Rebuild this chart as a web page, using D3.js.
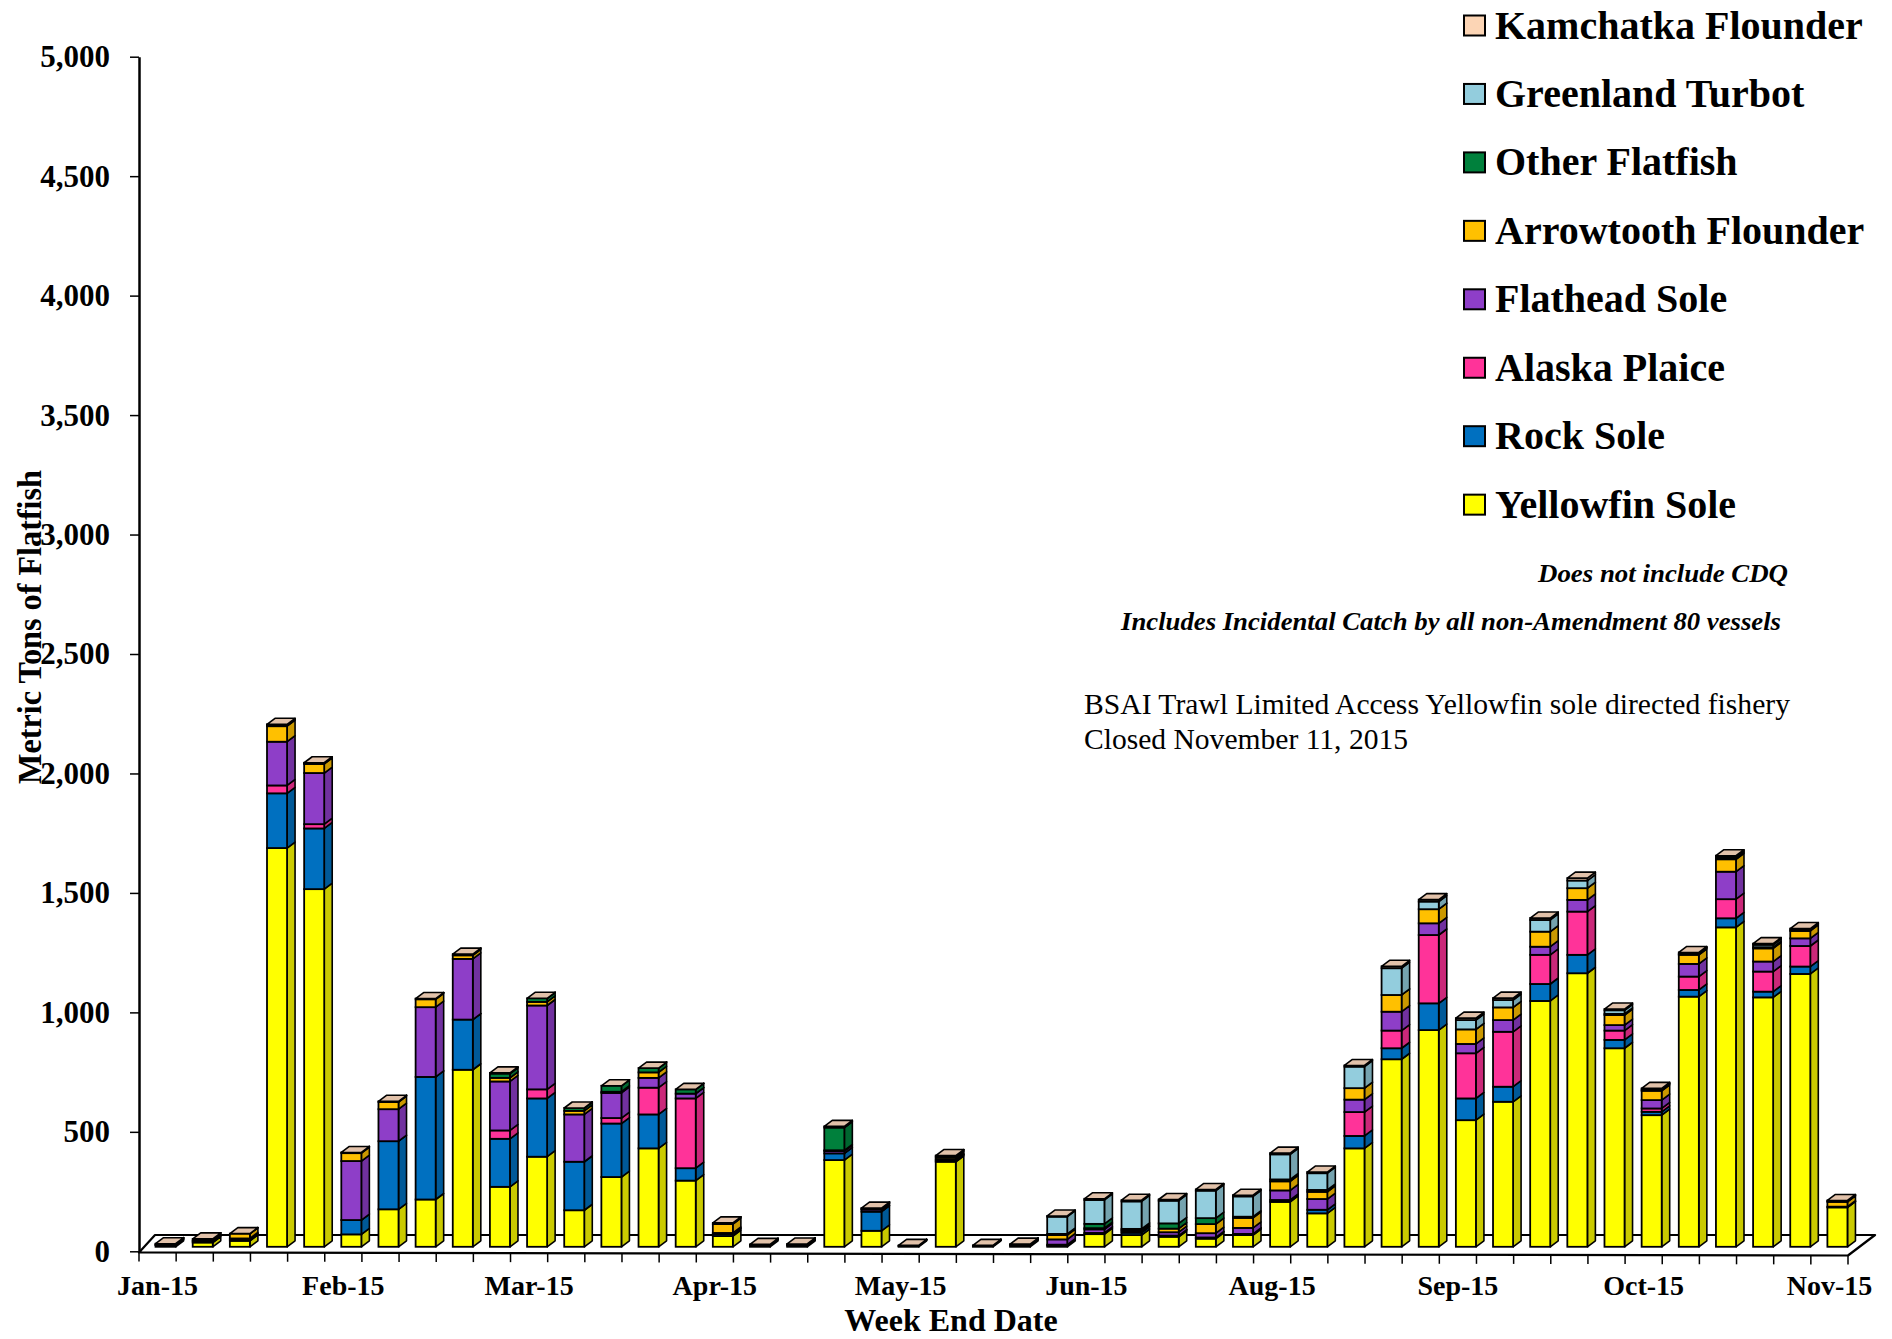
<!DOCTYPE html>
<html><head><meta charset="utf-8">
<script src="https://cdn.jsdelivr.net/npm/d3@7"></script>
<style>
html,body{margin:0;padding:0;background:#fff;}
svg{display:block;font-family:"Liberation Serif","Times New Roman",serif;}
</style></head><body>
<svg id="chart" width="1892" height="1339"></svg>
<script>
// ---- DATA ----
const weeks = ["2015-01-03","2015-01-10","2015-01-17","2015-01-24","2015-01-31","2015-02-07","2015-02-14","2015-02-21","2015-02-28","2015-03-07","2015-03-14","2015-03-21","2015-03-28","2015-04-04","2015-04-11","2015-04-18","2015-04-25","2015-05-02","2015-05-09","2015-05-16","2015-05-23","2015-05-30","2015-06-06","2015-06-13","2015-06-20","2015-06-27","2015-07-04","2015-07-11","2015-07-18","2015-07-25","2015-08-01","2015-08-08","2015-08-15","2015-08-22","2015-08-29","2015-09-05","2015-09-12","2015-09-19","2015-09-26","2015-10-03","2015-10-10","2015-10-17","2015-10-24","2015-10-31","2015-11-07","2015-11-14"];
const tickWeeks = ["2015-01-03","2015-02-07","2015-03-14","2015-04-18","2015-05-23","2015-06-27","2015-08-01","2015-09-05","2015-10-10","2015-11-14"];
const tickLabels = ["Jan-15","Feb-15","Mar-15","Apr-15","May-15","Jun-15","Aug-15","Sep-15","Oct-15","Nov-15"];
const yTicks = [0,500,1000,1500,2000,2500,3000,3500,4000,4500,5000];

const seriesNames = ["Yellowfin Sole","Rock Sole","Alaska Plaice","Flathead Sole","Arrowtooth Flounder","Other Flatfish","Greenland Turbot","Kamchatka Flounder"];
const seriesColors = ["#FFFF00","#0070C0","#FF3399","#8E3EC8","#FFC000","#00803C","#93CDDD","#FCD5B5"];

const yellowfinSole = [6,18,25,1669,1497,52,157,198,741,251,377,153,292,412,277,45,5,5,363,67,3,356,3,5,5,53,49,42,34,49,188,140,412,785,907,530,607,1029,1145,831,551,1047,1337,1044,1142,165];
const rockSole = [2,5,5,229,254,60,285,513,210,201,244,203,224,142,52,8,2,3,28,80,1,5,1,3,4,5,10,5,5,5,8,15,52,46,112,91,63,71,77,35,14,28,38,24,31,0];
const alaskaPlaice = [0,0,0,33,18,0,0,0,0,35,38,0,23,112,292,0,0,0,0,0,0,0,0,0,0,0,0,0,0,0,0,0,100,74,286,189,230,122,181,39,14,56,80,84,86,0];
const flatheadSole = [2,4,5,183,214,247,134,292,254,205,351,198,105,41,20,5,0,0,10,9,0,5,0,0,22,15,6,14,18,25,40,45,52,79,49,39,49,34,49,23,35,53,115,42,32,3];
const arrowtoothFlounder = [3,6,20,65,38,33,30,33,15,15,15,15,5,23,0,37,3,4,3,3,2,8,2,3,18,5,5,15,38,42,38,30,48,70,59,61,53,63,49,42,39,38,52,55,31,20];
const otherFlatfish = [0,0,0,5,3,3,3,3,5,18,15,12,25,18,18,5,0,0,95,3,0,5,0,0,5,18,5,22,25,5,8,8,0,0,0,0,0,0,0,5,5,5,5,5,5,3];
const greenlandTurbot = [0,0,0,0,0,0,0,0,0,0,0,0,0,0,0,0,0,0,0,0,0,3,0,0,72,100,115,95,115,85,105,70,90,112,32,39,31,49,32,15,0,0,5,10,0,0];
const kamchatkaFlounder = [0,0,0,3,2,0,0,0,0,3,0,0,0,0,0,0,0,0,5,0,0,0,0,0,3,5,5,5,5,5,5,5,5,8,8,8,8,8,10,5,5,5,5,5,5,3];

const seriesValues = [yellowfinSole,rockSole,alaskaPlaice,flatheadSole,arrowtoothFlounder,otherFlatfish,greenlandTurbot,kamchatkaFlounder];

// ---- CHART ----
const svg = d3.select("#chart");
const FONT = '"Liberation Serif","Times New Roman",serif';

const y = d3.scaleLinear().domain([0,5000]).range([1251.3,56.7]);
const x = d3.scaleBand().domain(weeks).range([139,1848]).paddingInner(0.46).paddingOuter(0.23);
const xCat = d3.scaleBand().domain(weeks).range([139,1848]).padding(0);

const rows = weeks.map((w,i)=>{const r={week:w}; seriesNames.forEach((s,j)=>r[s]=seriesValues[j][i]); return r;});
const stacked = d3.stack().keys(seriesNames)(rows);

// floor
const floorFront = 1252.5, floorBack = 1235;
svg.append("polygon")
  .attr("points",[[139,floorFront],[1848,floorFront+3],[1875,floorBack],[155,floorBack]].map(p=>p.join(",")).join(" "))
  .attr("fill","#fff").attr("stroke","#000").attr("stroke-width",2.2).attr("stroke-linejoin","round");

// x tick marks at category boundaries
svg.append("g").selectAll("line").data(d3.range(weeks.length+1)).join("line")
  .attr("x1",k=>139+k*xCat.step()).attr("x2",k=>139+k*xCat.step())
  .attr("y1",k=>floorFront+3*k/weeks.length).attr("y2",k=>floorFront+3*k/weeks.length+9)
  .attr("stroke","#000").attr("stroke-width",1.5);

// x axis labels
const labelMap = new Map(tickWeeks.map((w,i)=>[w,tickLabels[i]]));
const xAxis = svg.append("g").attr("transform","translate(0,1266)")
  .call(d3.axisBottom(xCat).tickValues(tickWeeks).tickFormat(w=>labelMap.get(w)).tickSize(0).tickPadding(0));
xAxis.select(".domain").remove();
xAxis.selectAll("text").attr("font-family",FONT).attr("font-weight","bold").attr("font-size",28)
  .attr("fill","#000").attr("dy","1.05em");

// bars
const barDX = 8, barDY = -4.5, depX = 8, depY = -6;
const bw = x.bandwidth();
const nS = seriesNames.length;
const barData = weeks.map((w,i)=>({week:w, segs:stacked.map((s,j)=>({j, y0:s[i][0], y1:s[i][1]}))}));

const bars = svg.append("g").selectAll("g").data(barData).join("g");
bars.each(function(b){
  const g = d3.select(this);
  const x0 = x(b.week)+barDX;
  b.segs.forEach(sg=>{
    const yb = y(sg.y0)+barDY, yt = y(sg.y1)+barDY;
    const c = seriesColors[sg.j];
    g.append("polygon")
      .attr("points",[[x0+bw,yb],[x0+bw+depX,yb+depY],[x0+bw+depX,yt+depY],[x0+bw,yt]].map(p=>p.join(",")).join(" "))
      .attr("fill",d3.color(c).darker(0.65)).attr("stroke","#000").attr("stroke-width",1.6).attr("stroke-linejoin","round");
    g.append("rect").attr("x",x0).attr("y",yt).attr("width",bw).attr("height",Math.max(0,yb-yt))
      .attr("fill",c).attr("stroke","#000").attr("stroke-width",1.8);
  });
  const top = b.segs[nS-1];
  const yt = y(top.y1)+barDY;
  g.append("polygon")
    .attr("points",[[x0,yt],[x0+depX,yt+depY],[x0+bw+depX,yt+depY],[x0+bw,yt]].map(p=>p.join(",")).join(" "))
    .attr("fill","#E2C2AA").attr("stroke","#000").attr("stroke-width",1.6).attr("stroke-linejoin","round");
});

// y axis
const yAxis = svg.append("g").attr("transform","translate(139,0)")
  .call(d3.axisLeft(y).tickValues(yTicks).tickFormat(d3.format(",")).tickSize(9).tickSizeOuter(0).tickPadding(20));
yAxis.select(".domain").attr("stroke","#000").attr("stroke-width",2.5);
yAxis.selectAll(".tick line").attr("stroke","#000").attr("stroke-width",1.5);
yAxis.selectAll("text").attr("font-family",FONT).attr("font-weight","bold").attr("font-size",31).attr("fill","#000");

// axis titles
svg.append("text").attr("transform","translate(41,627) rotate(-90)")
  .attr("text-anchor","middle").attr("font-family",FONT).attr("font-weight","bold").attr("font-size",33)
  .attr("textLength",314).attr("lengthAdjust","spacingAndGlyphs").text("Metric Tons of Flatfish");
svg.append("text").attr("x",951).attr("y",1331)
  .attr("text-anchor","middle").attr("font-family",FONT).attr("font-weight","bold").attr("font-size",32)
  .text("Week End Date");

// legend
const legendOrder = d3.range(nS).reverse();
const lg = svg.append("g").selectAll("g").data(legendOrder).join("g")
  .attr("transform",(j,i)=>`translate(0,${25.5+i*68.45})`);
lg.append("rect").attr("x",1464).attr("y",-10).attr("width",21).attr("height",20)
  .attr("fill",j=>seriesColors[j]).attr("stroke","#000").attr("stroke-width",2);
lg.append("text").attr("x",1495).attr("y",13).attr("font-family",FONT).attr("font-weight","bold")
  .attr("font-size",40).text(j=>seriesNames[j]);

// notes
svg.append("text").attr("x",1538).attr("y",582).attr("font-family",FONT).attr("font-weight","bold")
  .attr("font-style","italic").attr("font-size",26).attr("textLength",250).attr("lengthAdjust","spacingAndGlyphs")
  .text("Does not include CDQ");
svg.append("text").attr("x",1121).attr("y",630).attr("font-family",FONT).attr("font-weight","bold")
  .attr("font-style","italic").attr("font-size",26).attr("textLength",660).attr("lengthAdjust","spacingAndGlyphs")
  .text("Includes Incidental Catch by all non-Amendment 80 vessels");
svg.append("text").attr("x",1084).attr("y",714).attr("font-family",FONT)
  .attr("font-size",30).attr("textLength",706).attr("lengthAdjust","spacingAndGlyphs")
  .text("BSAI Trawl Limited Access Yellowfin sole directed fishery");
svg.append("text").attr("x",1084).attr("y",749).attr("font-family",FONT)
  .attr("font-size",30).attr("textLength",324).attr("lengthAdjust","spacingAndGlyphs")
  .text("Closed November 11, 2015");
</script>
</body></html>
